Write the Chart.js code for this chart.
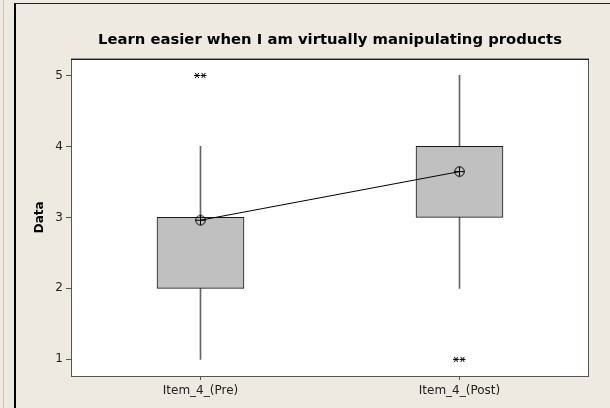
<!DOCTYPE html>
<html lang="en">
<head>
<meta charset="utf-8">
<title>Learn easier when I am virtually manipulating products</title>
<script src="https://cdn.jsdelivr.net/npm/chart.js@4"></script>
<style>
    body { margin: 0; background: #eeeae2; }
    #wrap { position: relative; width: 610px; height: 408px; overflow: hidden; }
    #strip { position: absolute; left: 3px; top: 0; width: 1px; height: 408px; background: #c9c5bc; }
    #frame { position: absolute; left: 14px; top: 3px; width: 620px; height: 420px;
             border-left: 2px solid #000; border-top: 1px solid #222; }
    canvas { position: absolute; left: 0; top: 0; }
</style>
</head>
<body>
<div id="wrap">
    <div id="strip"></div>
    <div id="frame"></div>
    <canvas id="myChart" width="610" height="408"></canvas>
</div>

<script>
    // values
    const categories = ['Item_4_(Pre)', 'Item_4_(Post)'];
    const q1 = [2, 3];
    const q3 = [3, 4];
    const whiskerLow = [1, 2];
    const whiskerHigh = [4, 5];
    const means = [2.96, 3.645];
    const outliers = [5, 1];
    const yTicks = [1, 2, 3, 4, 5];

    const FONT = 'DejaVu Sans';

    // circle with a cross for the mean symbol
    function meanSymbol() {
        const c = document.createElement('canvas');
        c.width = 13; c.height = 13;
        const g = c.getContext('2d');
        g.strokeStyle = '#000';
        g.lineWidth = 1;
        g.beginPath();
        g.arc(6.5, 6.5, 4.8, 0, Math.PI * 2);
        g.moveTo(1.5, 6.5); g.lineTo(11.5, 6.5);
        g.moveTo(6.5, 1.5); g.lineTo(6.5, 11.5);
        g.stroke();
        return c;
    }

    // two asterisks side by side, Minitab outlier mark
    function outlierSymbol() {
        const c = document.createElement('canvas');
        c.width = 15; c.height = 9;
        const g = c.getContext('2d');
        g.strokeStyle = '#000';
        g.lineWidth = 1;
        [4, 10.5].forEach(function (cx) {
            const cy = 4.5, r = 3;
            g.beginPath();
            g.moveTo(cx - r, cy); g.lineTo(cx + r, cy);
            g.moveTo(cx - r * 0.6, cy - r * 0.85); g.lineTo(cx + r * 0.6, cy + r * 0.85);
            g.moveTo(cx - r * 0.6, cy + r * 0.85); g.lineTo(cx + r * 0.6, cy - r * 0.85);
            g.stroke();
        });
        return c;
    }

    const plotArea = {
        id: 'plotArea',
        beforeDatasetsDraw(chart) {
            const a = chart.chartArea, ctx = chart.ctx;
            ctx.save();
            ctx.fillStyle = '#ffffff';
            ctx.fillRect(a.left, a.top, a.right - a.left, a.bottom - a.top);
            ctx.restore();
        },
        afterDraw(chart) {
            const a = chart.chartArea, ctx = chart.ctx;
            ctx.save();
            ctx.strokeStyle = '#555';
            ctx.lineWidth = 1;
            ctx.strokeRect(a.left + 0.5, a.top + 0.5, a.right - a.left - 1, a.bottom - a.top);
            ctx.strokeStyle = '#000';
            ctx.beginPath();
            ctx.moveTo(a.left, a.top + 0.5);
            ctx.lineTo(a.right, a.top + 0.5);
            ctx.stroke();
            ctx.restore();
        }
    };

    const ctx = document.getElementById('myChart');

    new Chart(ctx, {
        data: {
            labels: categories,
            datasets: [
                {
                    type: 'line',
                    label: 'Mean',
                    data: means,
                    borderColor: '#000',
                    borderWidth: 1,
                    pointStyle: meanSymbol(),
                    order: 0
                },
                {
                    type: 'line',
                    label: 'Outliers',
                    data: outliers,
                    showLine: false,
                    pointStyle: outlierSymbol(),
                    order: 0
                },
                {
                    type: 'bar',
                    label: 'IQR box',
                    data: categories.map((c, i) => [q1[i], q3[i]]),
                    backgroundColor: '#c0c0c0',
                    borderColor: '#1a1a1a',
                    borderWidth: 1,
                    borderSkipped: false,
                    barThickness: 87,
                    grouped: false,
                    order: 1
                },
                {
                    type: 'bar',
                    label: 'Whiskers',
                    data: categories.map((c, i) => [whiskerLow[i], whiskerHigh[i]]),
                    backgroundColor: '#666',
                    borderWidth: 0,
                    barThickness: 1,
                    grouped: false,
                    order: 2
                }
            ]
        },
        options: {
            responsive: false,
            animation: false,
            devicePixelRatio: 1,
            layout: { padding: { left: 16, top: 6, right: 21, bottom: 0 } },
            plugins: {
                legend: { display: false },
                tooltip: { enabled: false },
                title: {
                    display: true,
                    fullSize: false,
                    text: 'Learn easier when I am virtually manipulating products',
                    color: '#000',
                    font: { family: FONT, size: 14.8, weight: 'bold' },
                    padding: { top: 25, bottom: 10 }
                }
            },
            scales: {
                x: {
                    offset: true,
                    grid: { drawOnChartArea: false, tickLength: 4, color: '#555', offset: false },
                    border: { display: false },
                    ticks: { color: '#222', font: { family: FONT, size: 12 }, padding: 4 },
                    afterFit(scale) { scale.height = 32; }
                },
                y: {
                    min: 0.765,
                    max: 5.235,
                    afterBuildTicks(scale) { scale.ticks = yTicks.map(v => ({ value: v })); },
                    grid: { drawOnChartArea: false, tickLength: 5, color: '#555' },
                    border: { display: false },
                    ticks: { color: '#222', font: { family: FONT, size: 12 }, padding: 3 },
                    title: {
                        display: true,
                        text: 'Data',
                        color: '#000',
                        font: { family: FONT, size: 12, weight: 'bold' },
                        padding: { top: 17, bottom: 0 }
                    },
                    afterFit(scale) { scale.width = 55; }
                }
            }
        },
        plugins: [plotArea]
    });
</script>
</body>
</html>
